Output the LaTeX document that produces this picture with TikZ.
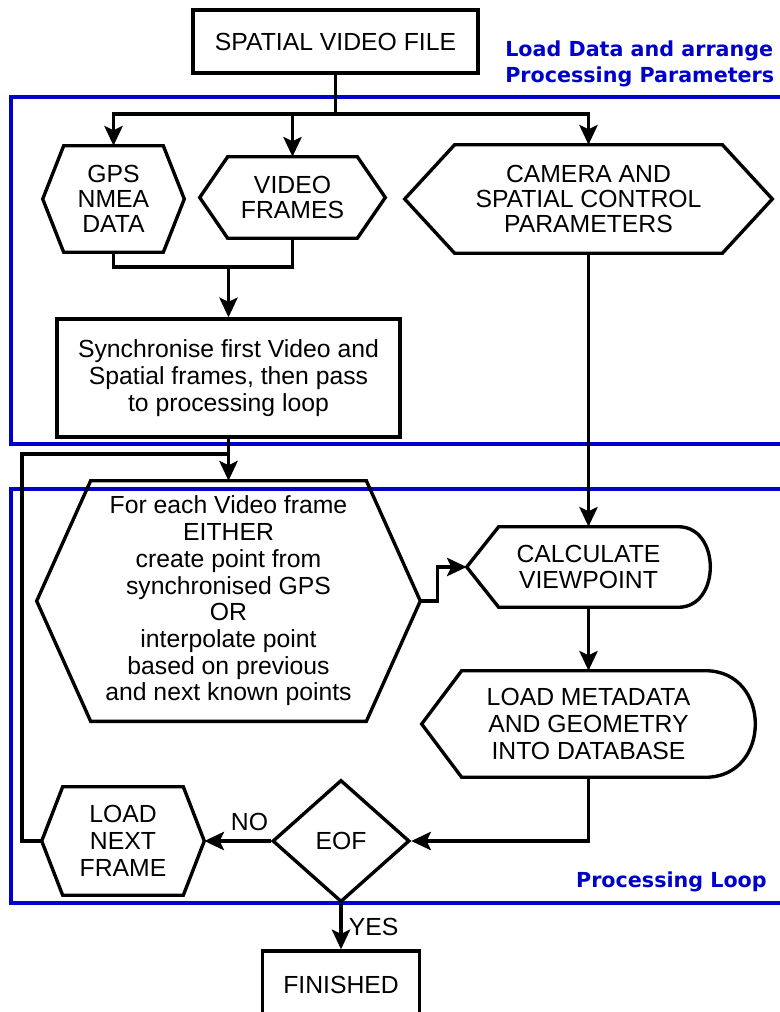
\documentclass[tikz,border=0pt]{standalone}
\usepackage{fontspec}
\setmainfont{Liberation Sans}
\newfontfamily\labelfont{DejaVu Sans}
\usepackage{tikz}
\usetikzlibrary{arrows.meta,calc,shapes.geometric}
\definecolor{loopblue}{RGB}{0,0,205}

% outline of a six-sided box around a (hidden) rectangular node
\newcommand{\hexout}[2]{%
  \draw[outline] (#1.west) -- ($(#1.north west)+(#2,0)$) -- ($(#1.north east)+(-#2,0)$)
    -- (#1.east) -- ($(#1.south east)+(-#2,0)$) -- ($(#1.south west)+(#2,0)$) -- cycle;}
% outline of a display box: pointed left end, rounded right end
\newcommand{\dispout}[3]{%
  \draw[outline] (#1.west) -- ($(#1.north west)+(#2,0)$) -- ($(#1.north east)+(-#3,0)$)
    .. controls ($(#1.north east)+(#3/3,0)$) and ($(#1.south east)+(#3/3,0)$) .. ($(#1.south east)+(-#3,0)$)
    -- ($(#1.south west)+(#2,0)$) -- cycle;}

\begin{document}
\begin{tikzpicture}[
  x=0.025cm, y=-0.025cm,
  font=\fontsize{17.6}{19}\selectfont,
  proc/.style={draw,line width=2.4pt,rectangle,align=center,inner sep=0pt},
  hidden/.style={rectangle,align=center,inner sep=0pt},
  tight/.style={font=\fontsize{17.6}{18}\selectfont},
  outline/.style={line width=2.4pt},
  line/.style={line width=2.4pt},
  arr/.style={line,-{Stealth[length=14pt,width=13pt,inset=3pt]}},
  frame/.style={draw=loopblue,line width=2.3pt},
  grouplabel/.style={text=loopblue,font=\labelfont\bfseries\fontsize{14.7}{18.4}\selectfont,align=left,inner sep=0pt},
]
\useasboundingbox (0,0) rectangle (779,1012);

% group frames
\draw[frame] (11,97) rectangle (800,444);
\draw[frame] (11,489) rectangle (800,903);
\node[grouplabel,anchor=west] (loadlbl) at (505,64) {Load Data and arrange\\Processing Parameters};
\node[grouplabel,anchor=east] (looplbl) at (767,882) {Processing Loop};

% nodes
\node[proc,minimum width=7.125cm,minimum height=1.575cm] (file) at (335.5,41.5) {SPATIAL VIDEO FILE};
\node[hidden,tight,minimum width=3.525cm,minimum height=2.65cm] (gps) at (113.5,199) {GPS\\NMEA\\DATA};
\node[hidden,tight,minimum width=4.625cm,minimum height=2.025cm] (video) at (292.5,197.5) {VIDEO\\FRAMES};
\node[hidden,tight,minimum width=9.175cm,minimum height=2.7cm] (camera) at (588.5,199) {CAMERA AND\\SPATIAL CONTROL\\PARAMETERS};
\node[proc,minimum width=8.575cm,minimum height=2.95cm] (sync) at (228.5,378) {Synchronise first Video and\\Spatial frames, then pass\\to processing loop};
\node[hidden,minimum width=9.575cm,minimum height=6cm] (each) at (228.5,601) {For each Video frame\\EITHER\\create point from\\synchronised GPS\\OR\\interpolate point\\based on previous\\and next known points};
\node[hidden,minimum width=6.075cm,minimum height=2cm] (calc) at (588.5,567) {CALCULATE\\VIEWPOINT};
\node[hidden,minimum width=8.325cm,minimum height=2.65cm] (meta) at (588.5,724) {LOAD METADATA\\AND GEOMETRY\\INTO DATABASE};
\node[draw,diamond,aspect=1,line width=2.4pt,inner sep=0pt,minimum width=3.425cm,minimum height=3.05cm] (eof) at (341,841) {EOF};
\node[hidden,minimum width=4.05cm,minimum height=2.7cm] (next) at (123,841) {LOAD\\NEXT\\FRAME};
\node[proc,minimum width=3.925cm,minimum height=1.7cm] (done) at (341,985) {FINISHED};

\hexout{gps}{21}
\hexout{video}{28}
\hexout{camera}{50}
\hexout{each}{54}
\hexout{next}{21}
\dispout{calc}{32}{32}
\dispout{meta}{40}{50}

% connectors
\coordinate (split) at (335.5,114);
\coordinate (merge) at (228.5,267);
\coordinate (jn) at (228.5,454);
\coordinate (loop) at (22,454);
\draw[line] (file) -- (split);
\draw[arr] (split) -| (gps.north);
\draw[arr] (split) -| (video.north);
\draw[arr] (split) -| (camera.north);
\draw[line] (gps.south) |- (merge);
\draw[line] (video.south) |- (merge);
\draw[arr] (merge) -- (sync.north);
\draw[arr] (sync.south) -- (each.north);
\draw[arr] (camera.south) -- (calc.north);
\draw[arr] (each.east) -- ++(17,0) |- (calc.west);
\draw[arr] (calc.south) -- (meta.north);
\draw[arr] (meta.south) |- (eof.east);
\draw[arr] (eof.west) -- (next.east) node[pos=0.32,above=3pt] {NO};
\draw[line] (next.west) -| (loop) -- (jn);
\draw[arr] (eof.south) -- (done.north) node[midway,right=1pt] {YES};
\end{tikzpicture}
\end{document}
